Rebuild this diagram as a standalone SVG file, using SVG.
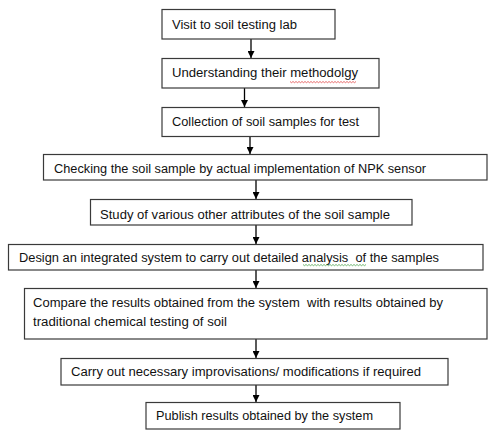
<svg xmlns="http://www.w3.org/2000/svg" width="488" height="434" viewBox="0 0 488 434">
<defs>
<marker id="ah" viewBox="0 0 10 10" refX="10" refY="5" markerWidth="7" markerHeight="7" markerUnits="userSpaceOnUse" orient="auto">
<path d="M0,0 L10,5 L0,10 Z" fill="#000"/>
</marker>
<style>
.box{fill:#fff;stroke:#3a3a3a;stroke-width:1.2}
.t{font-family:"Liberation Sans",Arial,sans-serif;font-size:12.5px;fill:#111}
.c{stroke:#000;stroke-width:1.3;fill:none;marker-end:url(#ah)}
</style>
</defs>
<rect width="488" height="434" fill="#fff"/>
<g id="connectors">
<line class="c" x1="251" y1="39" x2="251" y2="58"/>
<line class="c" x1="244.5" y1="88" x2="244.5" y2="107"/>
<line class="c" x1="250" y1="136" x2="250" y2="154"/>
<line class="c" x1="256" y1="180" x2="256" y2="199"/>
<line class="c" x1="256" y1="225" x2="256" y2="244"/>
<line class="c" x1="256" y1="270" x2="256" y2="288"/>
<line class="c" x1="256" y1="339" x2="256" y2="358"/>
<line class="c" x1="256" y1="385" x2="256" y2="402"/>
</g>
<g id="n1"><rect class="box" x="162" y="9.5" width="173" height="29.5"/><text class="t" x="172" y="28.5" textLength="125" lengthAdjust="spacingAndGlyphs">Visit to soil testing lab</text></g>
<g id="n2"><rect class="box" x="162" y="58.5" width="217" height="29.5"/><text class="t" x="172" y="77" textLength="186" lengthAdjust="spacingAndGlyphs">Understanding their methodolgy</text>
<path d="M290,81.5 l1.5,1.2 l1.5,-1.2 l1.5,1.2 l1.5,-1.2 l1.5,1.2 l1.5,-1.2 l1.5,1.2 l1.5,-1.2 l1.5,1.2 l1.5,-1.2 l1.5,1.2 l1.5,-1.2 l1.5,1.2 l1.5,-1.2 l1.5,1.2 l1.5,-1.2 l1.5,1.2 l1.5,-1.2 l1.5,1.2 l1.5,-1.2 l1.5,1.2 l1.5,-1.2 l1.5,1.2 l1.5,-1.2 l1.5,1.2 l1.5,-1.2 l1.5,1.2 l1.5,-1.2 l1.5,1.2 l1.5,-1.2 l1.5,1.2 l1.5,-1.2 l1.5,1.2 l1.5,-1.2 l1.5,1.2 l1.5,-1.2 l1.5,1.2 l1.5,-1.2 l1.5,1.2 l1.5,-1.2 l1.5,1.2 l1.5,-1.2 l1.5,1.2 l1.5,-1.2" fill="none" stroke="#e03030" stroke-width="0.7"/></g>
<g id="n3"><rect class="box" x="162" y="107.5" width="217" height="29"/><text class="t" x="172" y="125.5" textLength="187" lengthAdjust="spacingAndGlyphs">Collection of soil samples for test</text></g>
<g id="n4"><rect class="box" x="43.5" y="154.5" width="443.5" height="25.5"/><text class="t" x="54" y="173" textLength="372" lengthAdjust="spacingAndGlyphs">Checking the soil sample by actual implementation of NPK sensor</text></g>
<g id="n5"><rect class="box" x="90.5" y="199.5" width="321.5" height="25.5"/><text class="t" x="100" y="219" textLength="290" lengthAdjust="spacingAndGlyphs">Study of various other attributes of the soil sample</text></g>
<g id="n6"><rect class="box" x="8.5" y="244.5" width="474.5" height="25.5"/><text class="t" x="19" y="261.5" textLength="420" lengthAdjust="spacingAndGlyphs" xml:space="preserve">Design an integrated system to carry out detailed analysis  of the samples</text>
<path d="M303,264.5 l1.5,1.2 l1.5,-1.2 l1.5,1.2 l1.5,-1.2 l1.5,1.2 l1.5,-1.2 l1.5,1.2 l1.5,-1.2 l1.5,1.2 l1.5,-1.2 l1.5,1.2 l1.5,-1.2 l1.5,1.2 l1.5,-1.2 l1.5,1.2 l1.5,-1.2 l1.5,1.2 l1.5,-1.2 l1.5,1.2 l1.5,-1.2 l1.5,1.2 l1.5,-1.2 l1.5,1.2 l1.5,-1.2 l1.5,1.2 l1.5,-1.2 l1.5,1.2 l1.5,-1.2 l1.5,1.2 l1.5,-1.2 l1.5,1.2 l1.5,-1.2 l1.5,1.2 l1.5,-1.2 l1.5,1.2 l1.5,-1.2 l1.5,1.2 l1.5,-1.2 l1.5,1.2 l1.5,-1.2 l1.5,1.2 l1.5,-1.2" fill="none" stroke="#3a9a3a" stroke-width="0.7"/></g>
<g id="n7"><rect class="box" x="24.5" y="288.5" width="462.5" height="50.5"/><text class="t" x="33" y="307" textLength="410" lengthAdjust="spacingAndGlyphs" xml:space="preserve">Compare the results obtained from the system  with results obtained by</text><text class="t" x="33" y="326" textLength="194" lengthAdjust="spacingAndGlyphs">traditional chemical testing of soil</text></g>
<g id="n8"><rect class="box" x="61" y="358.5" width="387" height="26.5"/><text class="t" x="71" y="376" textLength="350" lengthAdjust="spacingAndGlyphs">Carry out necessary improvisations/ modifications if required</text></g>
<g id="n9"><rect class="box" x="146" y="402.5" width="254" height="26.5"/><text class="t" x="156" y="420" textLength="217" lengthAdjust="spacingAndGlyphs">Publish results obtained by the system</text></g>
</svg>
